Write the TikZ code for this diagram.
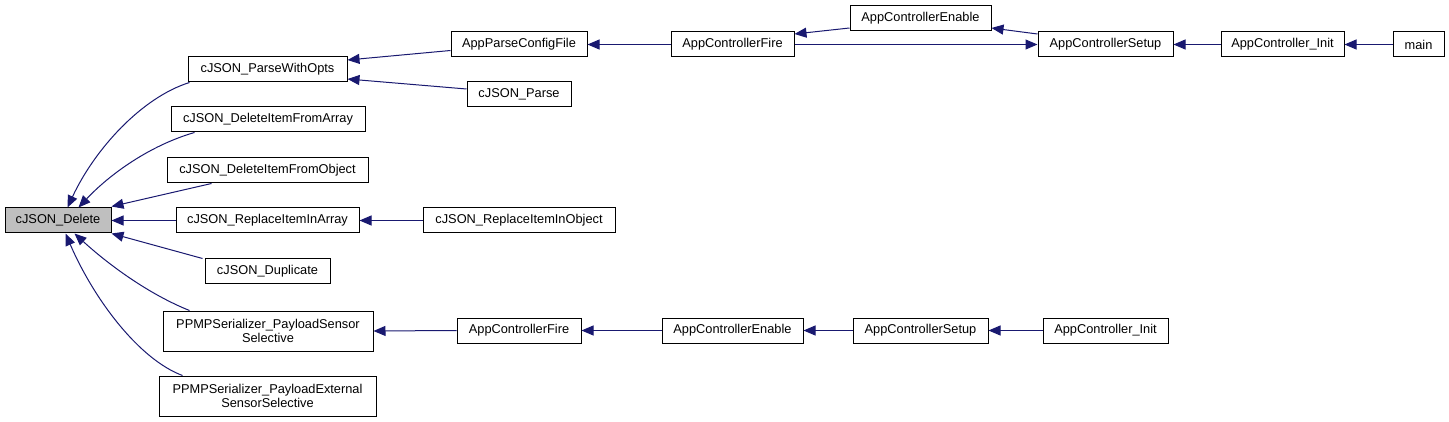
\documentclass[tikz,border=0pt]{standalone}
\usepackage{fontspec}
\setmainfont{Liberation Sans}
\usetikzlibrary{arrows.meta}
\definecolor{edgeblue}{HTML}{191970}
\definecolor{curgray}{HTML}{BFBFBF}
\tikzset{
  fbox/.style={draw=black, line width=1pt, fill=white, inner sep=0pt, align=center,
    font=\fontsize{12.8}{14.5}\selectfont, minimum height=25pt},
  tall/.style={minimum height=40pt},
  cur/.style={fill=curgray},
  call/.style={draw=edgeblue, line width=1pt, -{Triangle[length=12pt,width=10pt]}, color=edgeblue}
}
\begin{document}
\begin{tikzpicture}[x=1pt,y=-1pt]
\useasboundingbox (0,0) rectangle (1449,422);
% nodes
\node[fbox,cur,minimum width=106pt] (del) at (58,220.5) {cJSON\_Delete};
\node[fbox,minimum width=159pt] (pwo) at (267.5,69.5) {cJSON\_ParseWithOpts};
\node[fbox,minimum width=194pt] (dia) at (268,119.5) {cJSON\_DeleteItemFromArray};
\node[fbox,minimum width=201pt] (dio) at (267.5,170.5) {cJSON\_DeleteItemFromObject};
\node[fbox,minimum width=183pt] (ria) at (267.5,220.5) {cJSON\_ReplaceItemInArray};
\node[fbox,minimum width=125pt] (dup) at (267.5,271.5) {cJSON\_Duplicate};
\node[fbox,tall,minimum width=210pt] (pss) at (268,331) {PPMPSerializer\_PayloadSensor\\Selective};
\node[fbox,tall,minimum width=217pt] (pes) at (267.5,396) {PPMPSerializer\_PayloadExternal\\SensorSelective};
\node[fbox,minimum width=136pt] (apcf) at (519,44.5) {AppParseConfigFile};
\node[fbox,minimum width=104pt] (parse) at (519,94.5) {cJSON\_Parse};
\node[fbox,minimum width=123pt] (fireA) at (732.5,44.5) {AppControllerFire};
\node[fbox,minimum width=141pt] (enA) at (920.5,18.5) {AppControllerEnable};
\node[fbox,minimum width=135pt] (setA) at (1105.5,44.5) {AppControllerSetup};
\node[fbox,minimum width=123pt] (initA) at (1282.5,44.5) {AppController\_Init};
\node[fbox,minimum width=51pt] (mainf) at (1418.5,44.5) {main};
\node[fbox,minimum width=192pt] (rio) at (519,220.5) {cJSON\_ReplaceItemInObject};
\node[fbox,minimum width=124pt] (fireB) at (519,330.5) {AppControllerFire};
\node[fbox,minimum width=141pt] (enB) at (732.5,330.5) {AppControllerEnable};
\node[fbox,minimum width=135pt] (setB) at (920.5,330.5) {AppControllerSetup};
\node[fbox,minimum width=125pt] (initB) at (1105.5,330.5) {AppController\_Init};
% edges into cJSON_Delete
\draw[call] ([xshift=2pt]pwo.south west) .. controls +(-48,15) and +(27,-58) .. ([xshift=63pt]del.north west);
\draw[call] ([xshift=24pt]dia.south west) .. controls +(-45,13) and +(31,-33) .. ([xshift=74pt]del.north west);
\draw[call] ([xshift=45pt]dio.south west) -- ([yshift=1pt]del.north east);
\draw[call] (ria.west) -- (del.east);
\draw[call] ([xshift=-2pt]dup.north west) -- (del.south east);
\draw[call] ([xshift=27pt]pss.north west) .. controls +(-40,-16) and +(35,32) .. ([xshift=70pt]del.south west);
\draw[call] ([xshift=24pt]pes.north west) .. controls +(-43,-16) and +(29,67) .. ([xshift=61pt]del.south west);
% upper chain
\draw[call] ([yshift=-6pt]apcf.west) -- ([yshift=9.5pt]pwo.east);
\draw[call] ([yshift=5.5pt]parse.west) -- ([yshift=-9.5pt]pwo.east);
\draw[call] (fireA.west) -- (apcf.east);
\draw[call] ([yshift=-9.5pt]enA.west) -- ([yshift=10.5pt]fireA.east);
\draw[call] (fireA.east) -- (setA.west);
\draw[call] ([yshift=10.5pt]setA.west) -- ([yshift=-9.5pt]enA.east);
\draw[call] (initA.west) -- (setA.east);
\draw[call] (mainf.west) -- (initA.east);
% lower chains
\draw[call] (rio.west) -- (ria.east);
\draw[call] (fireB.west) -- (pss.east);
\draw[call] (enB.west) -- (fireB.east);
\draw[call] (setB.west) -- (enB.east);
\draw[call] (initB.west) -- (setB.east);
\end{tikzpicture}
\end{document}
